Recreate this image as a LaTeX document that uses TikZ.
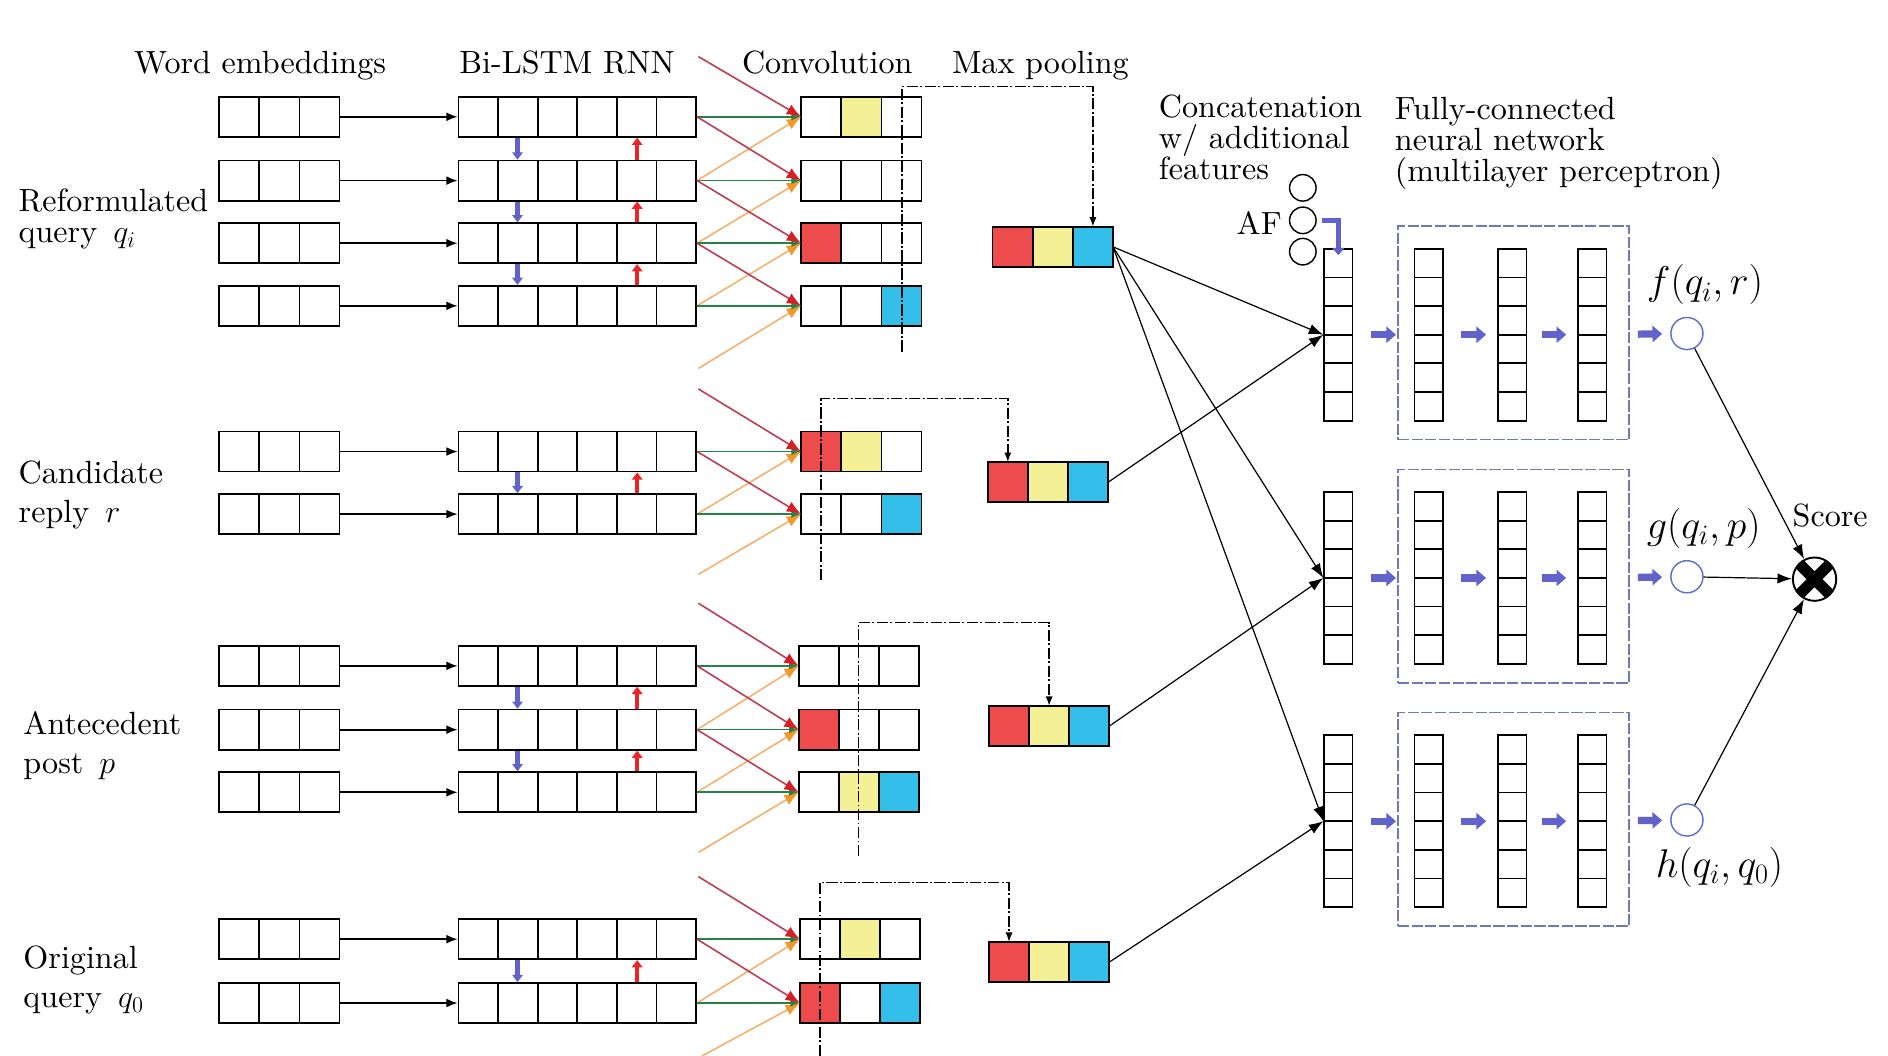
\documentclass[tikz,border=0pt]{standalone}
\usepackage{fix-cm}
\usepackage{fontspec}
\setmainfont{lmroman10-regular.otf}[ItalicFont=lmroman10-italic.otf, BoldFont=lmroman10-bold.otf]
\usetikzlibrary{arrows.meta,calc,positioning}

\definecolor{cellred}{RGB}{238,76,76}
\definecolor{cellylw}{RGB}{244,240,150}
\definecolor{cellblu}{RGB}{52,190,234}
\definecolor{arrblu}{RGB}{98,98,204}
\definecolor{arrred}{RGB}{236,36,36}
\definecolor{lnkgrn}{RGB}{36,130,70}
\definecolor{lnkred}{RGB}{190,62,84}
\definecolor{tipred}{RGB}{214,30,36}
\definecolor{lnkorg}{RGB}{244,178,112}
\definecolor{tiporg}{RGB}{244,150,40}
\definecolor{mlpfrm}{RGB}{112,122,178}
\definecolor{outblu}{RGB}{96,112,200}

\tikzset{every picture/.style={line width=0.75pt}}
\tikzset{
  hcut/.style={path picture={\foreach \k in {1,...,#1}{
      \pgfmathsetmacro\fr{\k/(#1+1)}
      \draw[line width=1.1pt] ($(path picture bounding box.south west)!\fr!(path picture bounding box.south east)$)
        -- ($(path picture bounding box.north west)!\fr!(path picture bounding box.north east)$);}}},
  vcut/.style={path picture={\foreach \k in {1,...,#1}{
      \pgfmathsetmacro\fr{\k/(#1+1)}
      \draw[line width=1.1pt] ($(path picture bounding box.north west)!\fr!(path picture bounding box.south west)$)
        -- ($(path picture bounding box.north east)!\fr!(path picture bounding box.south east)$);}}},
  emb/.style={draw, line width=1.1pt, inner sep=0pt, minimum width=75pt, minimum height=25pt, hcut=2},
  lstm/.style={draw, line width=1.1pt, inner sep=0pt, minimum width=148pt, minimum height=25pt, hcut=5},
  cell/.style={draw, line width=1.1pt, inner sep=0pt, outer sep=0pt, minimum width=25pt, minimum height=25pt},
  colvec/.style={draw, line width=1.1pt, inner sep=0pt, minimum width=17.6pt, minimum height=107pt, vcut=5},
  mlpbox/.style={draw=mlpfrm, line width=0.9pt, dash pattern=on 7pt off 1.5pt, inner sep=0pt, minimum width=144pt, minimum height=133pt},
  afc/.style={circle, draw, line width=0.9pt, inner sep=0pt, minimum size=16.5pt},
  outc/.style={circle, draw=outblu, line width=0.9pt, inner sep=0pt, minimum size=20pt},
  prod/.style={circle, draw, fill=white, line width=1.2pt, inner sep=0pt, minimum size=27pt,
    path picture={\draw[line width=7pt] (path picture bounding box.north west) -- (path picture bounding box.south east)
      (path picture bounding box.north east) -- (path picture bounding box.south west);}},
  txt/.style={inner sep=0pt, font=\fontsize{20}{19.5}\selectfont},
  mth/.style={inner sep=0pt, font=\fontsize{25}{28}\selectfont},
  feedin/.style={line width=1.1pt, -{Latex[length=7pt,width=5.5pt]}},
  grnlnk/.style={draw=lnkgrn, line width=1pt, -{Latex[length=6pt,width=4.5pt,color=lnkgrn]}},
  redlnk/.style={draw=lnkred, line width=1pt, -{Latex[length=9pt,width=7pt,color=tipred]}},
  orglnk/.style={draw=lnkorg, line width=1pt, -{Latex[length=9pt,width=7pt,color=tiporg]}},
  bdown/.style={draw=arrblu, line width=2.6pt, -{Triangle[length=4.5pt,width=6.5pt]}},
  rup/.style={draw=arrred, line width=2.6pt, -{Triangle[length=4.5pt,width=6.5pt]}},
  pooldash/.style={line width=1pt, dash pattern=on 7pt off 1.5pt on 1.2pt off 1.5pt, -{Latex[length=6pt,width=4.5pt]}},
  feed/.style={line width=0.75pt, -{Latex[length=9pt,width=6.5pt]}},
  blk/.style={draw=arrblu, line width=4.5pt, -{Triangle[length=6pt,width=10pt]}},
  afbend/.style={draw=arrblu, line width=3pt, -{Triangle[length=4.5pt,width=7.5pt]}},
}

\begin{document}
\begin{tikzpicture}[x=0.75pt,y=0.75pt,yscale=-1,xscale=1]
  %set diagram left start at 0, and has height of 877
  \path[use as bounding box, fill=white] (0,0) rectangle (1568,877);

  %Shape: word embeddings and Bi-LSTM rows
  \foreach \a/\yy in {11/97,12/150,13/202,14/254,21/375,22/427,31/553,32/606,33/658,41/780,42/833}{
    \node[emb] (e\a) at (232,\yy) {};
    \node[lstm] (l\a) at (479.5,\yy) {};
    \draw[feedin] (e\a) -- (l\a);
  }

  %Shape: convolution rows
  \foreach \nm/\xx/\yy/\ca/\cb/\cc in {c11/682/97/white/cellylw/white, c12/682/150/white/white/white,
      c13/682/202/cellred/white/white, c14/682/254/white/white/cellblu,
      c21/682/375/cellred/cellylw/white, c22/682/427/white/white/cellblu,
      c31/680/553/white/white/white, c32/680/606/cellred/white/white, c33/680/658/white/cellylw/cellblu,
      c41/681/780/white/cellylw/white, c42/681/833/cellred/white/cellblu}{
    \node[cell, fill=\ca] (\nm a) at (\xx,\yy) {};
    \node[cell, fill=\cb, right=0pt of \nm a] (\nm b) {};
    \node[cell, fill=\cc, right=0pt of \nm b] (\nm c) {};
  }

  %Shape: max pooling rows
  \foreach \nm/\xx/\yy in {m1/841/205, m2/837/400.5, m3/838/603, m4/838/799}{
    \node[cell, fill=cellred] (\nm a) at (\xx,\yy) {};
    \node[cell, fill=cellylw, right=0pt of \nm a] (\nm b) {};
    \node[cell, fill=cellblu, right=0pt of \nm b] (\nm c) {};
  }

  %Straight Lines: Bi-LSTM to convolution
  \coordinate (in1) at (580,47);  \coordinate (up1) at (580,306);
  \coordinate (in2) at (580,323); \coordinate (up2) at (580,477);
  \coordinate (in3) at (580,501); \coordinate (up3) at (580,708);
  \coordinate (in4) at (580,728); \coordinate (up4) at (583,877);
  \draw[orglnk] (up1) -- (c14a.west);
  \draw[orglnk] (up2) -- (c22a.west);
  \draw[orglnk] (up3) -- (c33a.west);
  \draw[orglnk] (up4) -- (c42a.west);
  \foreach \a/\b in {11/12,12/13,13/14,21/22,31/32,32/33,41/42}{
    \draw[orglnk] (l\b.east) -- (c\a a.west);
    \draw[bdown] ($(l\a.south west)!.25!(l\a.south east)$) -- ($(l\b.north west)!.25!(l\b.north east)$);
    \draw[rup] ($(l\b.north west)!.75!(l\b.north east)$) -- ($(l\a.south west)!.75!(l\a.south east)$);
  }
  \foreach \a in {11,12,13,14,21,22,31,32,33,41,42}{
    \draw[grnlnk] (l\a.east) -- (c\a a.west);
  }
  \foreach \a/\b in {11/12,12/13,13/14,21/22,31/32,32/33,41/42}{
    \draw[redlnk] (l\a.east) -- (c\b a.west);
  }
  \draw[redlnk] (in1) -- (c11a.west);
  \draw[redlnk] (in2) -- (c21a.west);
  \draw[redlnk] (in3) -- (c31a.west);
  \draw[redlnk] (in4) -- (c41a.west);

  %Straight Lines: pooling
  \coordinate (d1t) at (749,72);  \coordinate (d1b) at (749,292);
  \coordinate (d2t) at (682,331); \coordinate (d2b) at (682,482);
  \coordinate (d3t) at (713,517); \coordinate (d3b) at (713,711);
  \coordinate (d4t) at (681,733); \coordinate (d4b) at (681,877);
  \draw[pooldash] (d1b) -- (d1t) -| (m1c.north);
  \draw[pooldash] (d2b) -- (d2t) -| (m2a.north);
  \draw[pooldash] (d3b) -- (d3t) -| (m3b.north);
  \draw[pooldash] (d4b) -- (d4t) -| (m4a.north);

  %Shape: concatenation and multilayer perceptron
  \foreach \i/\yy in {1/278,2/480,3/682}{
    \node[mlpbox] (mlp\i) at (1257,\yy-1.5) {};
    \node[colvec] (v\i) at (1111.5,\yy) {};
    \node[colvec] (h\i1) at (1186.5,\yy) {};
    \node[colvec] (h\i2) at (1256,\yy) {};
    \node[colvec] (h\i3) at (1322.5,\yy) {};
    \node[outc] (o\i) at (1401,\yy-1) {};
    \draw[blk, shorten <=11pt, shorten >=11pt] (v\i) -- (h\i1);
    \draw[blk, shorten <=11pt, shorten >=7pt] (h\i1) -- (h\i2);
    \draw[blk, shorten <=9pt, shorten >=7pt] (h\i2) -- (h\i3);
    \draw[blk, shorten <=19pt, shorten >=5pt] (h\i3) -- (o\i);
  }

  %Shape: additional features
  \node[afc] (af1) at (1082,156) {};
  \node[afc] (af2) at (1082,183) {};
  \node[afc] (af3) at (1082,209) {};
  \draw[afbend] ([xshift=3pt]af2.east) -| ([yshift=4.5pt]v1.north);

  %Straight Lines: pooled features to concatenation
  \draw[feed] (m1c.east) -- (v1.west);
  \draw[feed] (m1c.east) -- (v2.west);
  \draw[feed] (m1c.east) -- (v3.west);
  \draw[feed] (m2c.east) -- (v1.west);
  \draw[feed] (m3c.east) -- (v2.west);
  \draw[feed] (m4c.east) -- (v3.west);

  %Shape: score
  \node[prod] (sc) at (1507,481) {};
  \draw[feed] (o1) -- (sc);
  \draw[feed] (o2) -- (sc);
  \draw[feed] (o3) -- (sc);

  % Text Node
  \node[txt, anchor=base] (hemb) at (216,61) {Word embeddings};
  % Text Node
  \node[txt, anchor=base] (hrnn) at (471,61) {Bi-LSTM RNN};
  % Text Node
  \node[txt, anchor=base] (hconv) at (687,61) {Convolution};
  % Text Node
  \node[txt, anchor=base] (hpool) at (864,61) {Max pooling};
  % Text Node
  \node[txt, anchor=west, align=left] (hcat) at (962,114) {Concatenation\\w/ additional\\features};
  % Text Node
  \node[txt, anchor=west, align=left] (hmlp) at (1158,119) {Fully-connected\\neural network\\(multilayer perceptron)};
  % Text Node
  \node[txt, anchor=north west, align=left] (lqi) at (15,156) {Reformulated\\[0pt]query\enspace$q_i$};
  % Text Node
  \node[txt, anchor=north west, align=left] (lr) at (15,382) {Candidate\\[5pt]reply\enspace$r$};
  % Text Node
  \node[txt, anchor=north west, align=left] (lp) at (19,590) {Antecedent\\[5pt]post\enspace$p$};
  % Text Node
  \node[txt, anchor=north west, align=left] (lq0) at (19,785) {Original\\[5pt]query\enspace$q_0$};
  % Text Node
  \node[txt, anchor=base east] (laf) at (1065,195) {AF};
  % Text Node
  \node[mth, anchor=base] (lf) at (1416,245) {$f(q_i,r)$};
  % Text Node
  \node[mth, anchor=base] (lg) at (1415,447) {$g(q_i,p)$};
  % Text Node
  \node[mth, anchor=base] (lh) at (1428,729) {$h(q_i,q_0)$};
  % Text Node
  \node[txt, anchor=base] (lsc) at (1520,437) {Score};
\end{tikzpicture}
\end{document}
